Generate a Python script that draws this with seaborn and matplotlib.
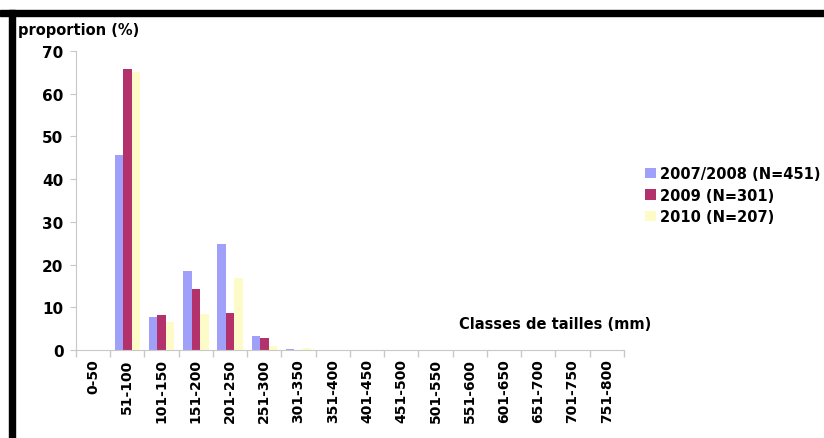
import pandas as pd
import seaborn as sns
import matplotlib.pyplot as plt
from matplotlib.patches import Rectangle

# Size classes (mm) and proportions (%) per sampling period
classes = ['0-50', '51-100', '101-150', '151-200', '201-250', '251-300', '301-350',
           '351-400', '401-450', '451-500', '501-550', '551-600', '601-650',
           '651-700', '701-750', '751-800']
series = ['2007/2008 (N=451)', '2009 (N=301)', '2010 (N=207)']
p_2007_2008 = [0, 45.6, 7.8, 18.4, 24.7, 3.3, 0.2, 0, 0, 0, 0, 0, 0, 0, 0, 0]
p_2009 = [0, 65.9, 8.3, 14.3, 8.7, 2.9, 0, 0, 0, 0, 0, 0, 0, 0, 0, 0]
p_2010 = [0, 65.2, 6.5, 8.4, 16.9, 1.0, 0.5, 0, 0, 0, 0, 0, 0, 0, 0, 0]
colors = ['#a0a0fa', '#b3326c', '#fdfcc8']

df = pd.DataFrame({
    'classe': classes * 3,
    'periode': [series[0]] * 16 + [series[1]] * 16 + [series[2]] * 16,
    'proportion': p_2007_2008 + p_2009 + p_2010,
})

plt.rcParams['font.family'] = 'DejaVu Sans'
plt.rcParams['font.weight'] = 'bold'

fig = plt.figure(figsize=(8.24, 4.39), dpi=100)
ax = fig.add_axes([0.0922, 0.2005, 0.665, 0.681])

sns.barplot(data=df, x='classe', y='proportion', hue='periode', order=classes,
            hue_order=series, palette=colors, saturation=1, width=0.74, ax=ax, legend=True)

ax.set_ylim(0, 70)
ax.set_xlim(-0.5, 15.5)
ax.set_yticks(range(0, 71, 10))
ax.set_yticklabels([str(v) for v in range(0, 71, 10)], fontsize=11, fontweight='bold')
ax.set_xticks(range(16))
ax.set_xticklabels(classes, rotation=90, fontsize=10, fontweight='bold')
ax.set_xticks([i - 0.5 for i in range(17)], minor=True)
ax.tick_params(axis='x', which='major', length=0, pad=6)
ax.tick_params(axis='x', which='minor', length=5, color='#c8c8c8', width=1)
ax.tick_params(axis='y', length=4, color='#c8c8c8', pad=5)

for s in ['top', 'right']:
    ax.spines[s].set_visible(False)
for s in ['left', 'bottom']:
    ax.spines[s].set_color('#c8c8c8')
ax.set_xlabel('')
ax.set_ylabel('')

fig.text(0.022, 0.93, 'proportion (%)', fontsize=10.5, fontweight='bold', ha='left', va='center')
ax.text(0.874, 0.09, 'Classes de tailles (mm)', transform=ax.transAxes,
        fontsize=10.5, fontweight='bold', ha='center', va='center')

leg = ax.legend(loc='center left', bbox_to_anchor=(1.015, 0.518), frameon=False,
                fontsize=10.5, handlelength=0.75, handleheight=0.75, handletextpad=0.25,
                labelspacing=0.45)
for t in leg.get_texts():
    t.set_fontweight('bold')

# black frame on top and left edges
fig.patches.append(Rectangle((0, 1 - 17 / 439), 1, 6 / 439, transform=fig.transFigure,
                             color='black', zorder=10))
fig.patches.append(Rectangle((9 / 824, 0), 6 / 824, 1 - 11 / 439, transform=fig.transFigure,
                             color='black', zorder=10))

fig.savefig('out.png', dpi=100)
